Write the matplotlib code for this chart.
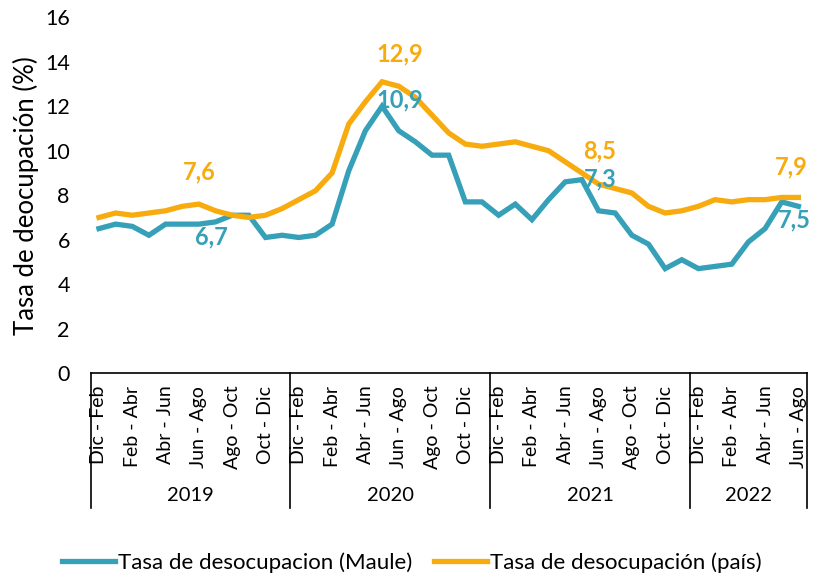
import matplotlib.pyplot as plt

plt.rcParams['font.family'] = ['Lato', 'DejaVu Sans']

# trimestres moviles, dic-feb 2019 a jun-ago 2022
trimestres = ['Dic - Feb', 'Ene - Mar', 'Feb - Abr', 'Mar - May', 'Abr - Jun', 'May - Jul',
              'Jun - Ago', 'Jul - Sep', 'Ago - Oct', 'Sep - Nov', 'Oct - Dic', 'Nov - Ene']
anios = ['2019', '2020', '2021', '2022']
n_por_anio = [12, 12, 12, 7]

maule = [6.5, 6.7, 6.6, 6.2, 6.7, 6.7, 6.7, 6.8, 7.1, 7.1, 6.1, 6.2,
         6.1, 6.2, 6.7, 9.1, 10.9, 12.0, 10.9, 10.4, 9.8, 9.8, 7.7, 7.7,
         7.1, 7.6, 6.9, 7.8, 8.6, 8.7, 7.3, 7.2, 6.2, 5.8, 4.7, 5.1,
         4.7, 4.8, 4.9, 5.9, 6.5, 7.7, 7.5]
pais = [7.0, 7.2, 7.1, 7.2, 7.3, 7.5, 7.6, 7.3, 7.1, 7.0, 7.1, 7.4,
        7.8, 8.2, 9.0, 11.2, 12.2, 13.1, 12.9, 12.4, 11.6, 10.8, 10.3, 10.2,
        10.3, 10.4, 10.2, 10.0, 9.5, 9.0, 8.5, 8.3, 8.1, 7.5, 7.2, 7.3,
        7.5, 7.8, 7.7, 7.8, 7.8, 7.9, 7.9]

etiquetas = []
for n in n_por_anio:
    etiquetas += trimestres[:n]
x = list(range(len(etiquetas)))

azul = '#35A0B7'
naranja = '#F7AB0E'

fig = plt.figure(figsize=(8.24, 5.75), dpi=100)
ax = fig.add_axes([0.110, 0.351, 0.869, 0.619])

ax.plot(x, maule, color=azul, lw=3.8, solid_joinstyle='miter', label='Tasa de desocupacion (Maule)')
ax.plot(x, pais, color=naranja, lw=3.8, solid_joinstyle='miter', label='Tasa de desocupación (país)')

ax.set_ylim(0, 16)
ax.set_xlim(-0.5, len(x) - 0.5)
ax.set_yticks(range(0, 17, 2))
ax.tick_params(axis='y', length=0, pad=15, labelsize=15.5)
ax.set_xticks(x[::2])
ax.set_xticklabels(etiquetas[::2], rotation=90, fontsize=14)
ax.tick_params(axis='x', length=0, pad=9)
for s in ['top', 'right', 'left']:
    ax.spines[s].set_visible(False)
ax.spines['bottom'].set_linewidth(1.2)
ax.set_ylabel('Tasa de deocupación (%)', fontsize=18.5, labelpad=4)

# separadores y etiquetas de año
tr = ax.get_xaxis_transform()
inicio = -0.5
for anio, n in zip(anios, n_por_anio):
    ax.plot([inicio, inicio], [0, -0.38], color='black', lw=1.2, transform=tr, clip_on=False)
    ax.text(inicio + n / 2, -0.343, anio, transform=tr, ha='center', va='center', fontsize=14.5)
    inicio += n
ax.plot([inicio, inicio], [0, -0.38], color='black', lw=1.2, transform=tr, clip_on=False)

# etiquetas de datos en jun-ago de cada año
idx_jun_ago = [6, 18, 30, 42]
off_pais = [(0, 23), (1, 23), (1, 24), (-5, 22)]
off_maule = [(9, -9), (1, 22), (1, 23), (-3, -10)]
for i, op, om in zip(idx_jun_ago, off_pais, off_maule):
    ax.annotate(f'{pais[i]:.1f}'.replace('.', ','), (i, pais[i]), xytext=op,
                textcoords='offset points', ha='center', va='center',
                color=naranja, fontsize=17, fontweight='bold', annotation_clip=False)
    ax.annotate(f'{maule[i]:.1f}'.replace('.', ','), (i, maule[i]), xytext=om,
                textcoords='offset points', ha='center', va='center',
                color=azul, fontsize=17, fontweight='bold', annotation_clip=False)

fig.legend(loc='center', bbox_to_anchor=(0.5, 0.022), ncol=2, frameon=False,
           fontsize=16, handlelength=2.35, handletextpad=0.15, columnspacing=1.0)

plt.savefig('out.png')
